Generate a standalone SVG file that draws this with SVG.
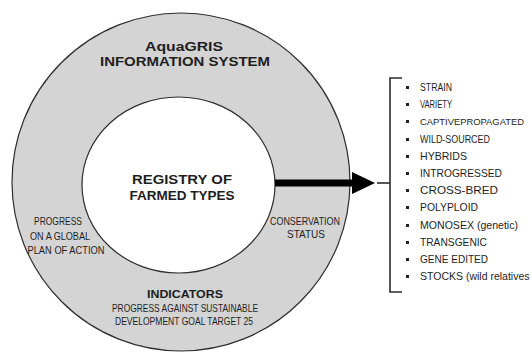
<svg xmlns="http://www.w3.org/2000/svg" width="531" height="356" viewBox="0 0 531 356">
  <style>
    .ring { fill: #d4d4d4; stroke: #2e2e2e; stroke-width: 1.2; }
    .core { fill: #ffffff; stroke: #2e2e2e; stroke-width: 1.2; }
    .t { font-family: "Liberation Sans", Arial, sans-serif; fill: #1e1e1e; }
    .b { font-weight: bold; }
    .title { font-size: 12.5px; }
    .core-t { font-size: 13.5px; }
    .lbl { font-size: 10.5px; }
    .item { font-size: 10.5px; }
    .narrow { font-size: 9.5px; }
    .line { stroke: #2a2a2a; stroke-width: 1.6; fill: none; }
  </style>

  <!-- outer ring: information system -->
  <g id="info-system">
    <circle class="ring" cx="181" cy="182" r="169"/>
    <text class="t b title" x="184" y="51" text-anchor="middle" textLength="78" lengthAdjust="spacingAndGlyphs">AquaGRIS</text>
    <text class="t b title" x="185" y="66" text-anchor="middle" textLength="170" lengthAdjust="spacingAndGlyphs">INFORMATION SYSTEM</text>
  </g>

  <!-- ring annotations -->
  <g id="progress-gpa">
    <text class="t lbl" x="58" y="225" text-anchor="middle" textLength="48" lengthAdjust="spacingAndGlyphs">PROGRESS</text>
    <text class="t lbl" x="60" y="240" text-anchor="middle" textLength="60" lengthAdjust="spacingAndGlyphs">ON A GLOBAL</text>
    <text class="t lbl" x="66" y="254" text-anchor="middle" textLength="77" lengthAdjust="spacingAndGlyphs">PLAN OF ACTION</text>
  </g>
  <g id="conservation-status">
    <text class="t lbl" x="305" y="225" text-anchor="middle" textLength="70" lengthAdjust="spacingAndGlyphs">CONSERVATION</text>
    <text class="t lbl" x="306" y="238" text-anchor="middle" textLength="38" lengthAdjust="spacingAndGlyphs">STATUS</text>
  </g>
  <g id="indicators">
    <text class="t b lbl" x="185" y="298" text-anchor="middle" textLength="76" lengthAdjust="spacingAndGlyphs">INDICATORS</text>
    <text class="t lbl" x="185" y="312" text-anchor="middle" textLength="146" lengthAdjust="spacingAndGlyphs">PROGRESS  AGAINST SUSTAINABLE</text>
    <text class="t lbl" x="184" y="325" text-anchor="middle" textLength="138" lengthAdjust="spacingAndGlyphs">DEVELOPMENT  GOAL TARGET 25</text>
  </g>

  <!-- inner core: registry -->
  <g id="registry">
    <ellipse class="core" cx="178.5" cy="185" rx="96.5" ry="88"/>
    <text class="t b core-t" x="182" y="184" text-anchor="middle" textLength="100" lengthAdjust="spacingAndGlyphs">REGISTRY OF</text>
    <text class="t b core-t" x="182" y="200" text-anchor="middle" textLength="105" lengthAdjust="spacingAndGlyphs">FARMED TYPES</text>
  </g>

  <!-- connectors -->
  <g id="connectors">
    <line x1="275" y1="183" x2="354" y2="183" stroke="#000" stroke-width="7"/>
    <polygon points="352,172 375,183 352,194" fill="#000"/>
    <line class="line" x1="377" y1="183" x2="390" y2="183"/>
    <path class="line" d="M402,78 H390 V292 H402"/>
  </g>

  <!-- list of farmed types -->
  <g id="farmed-types">
    <g fill="#222">
      <rect x="406" y="86" width="3" height="3"/>
      <rect x="406" y="103" width="3" height="3"/>
      <rect x="406" y="120" width="3" height="3"/>
      <rect x="406" y="138" width="3" height="3"/>
      <rect x="406" y="155" width="3" height="3"/>
      <rect x="406" y="172" width="3" height="3"/>
      <rect x="406" y="189" width="3" height="3"/>
      <rect x="406" y="206" width="3" height="3"/>
      <rect x="406" y="224" width="3" height="3"/>
      <rect x="406" y="241" width="3" height="3"/>
      <rect x="406" y="258" width="3" height="3"/>
      <rect x="406" y="275" width="3" height="3"/>
    </g>
    <text class="t item" x="420" y="91" textLength="32" lengthAdjust="spacingAndGlyphs">STRAIN</text>
    <text class="t item" x="420" y="108" textLength="32" lengthAdjust="spacingAndGlyphs">VARIETY</text>
    <text class="t item narrow" x="420" y="125" textLength="104" lengthAdjust="spacingAndGlyphs">CAPTIVEPROPAGATED</text>
    <text class="t item" x="420" y="143" textLength="70" lengthAdjust="spacingAndGlyphs">WILD-SOURCED</text>
    <text class="t item" x="420" y="160" textLength="47" lengthAdjust="spacingAndGlyphs">HYBRIDS</text>
    <text class="t item" x="420" y="177" textLength="82" lengthAdjust="spacingAndGlyphs">INTROGRESSED</text>
    <text class="t item" x="420" y="194" textLength="78" lengthAdjust="spacingAndGlyphs">CROSS-BRED</text>
    <text class="t item" x="420" y="211" textLength="58" lengthAdjust="spacingAndGlyphs">POLYPLOID</text>
    <text class="t item" x="420" y="229" textLength="98" lengthAdjust="spacingAndGlyphs">MONOSEX (genetic)</text>
    <text class="t item" x="420" y="246" textLength="67" lengthAdjust="spacingAndGlyphs">TRANSGENIC</text>
    <text class="t item" x="420" y="263" textLength="68" lengthAdjust="spacingAndGlyphs">GENE  EDITED</text>
    <text class="t item" x="420" y="280">STOCKS (wild relatives</text>
  </g>
</svg>
